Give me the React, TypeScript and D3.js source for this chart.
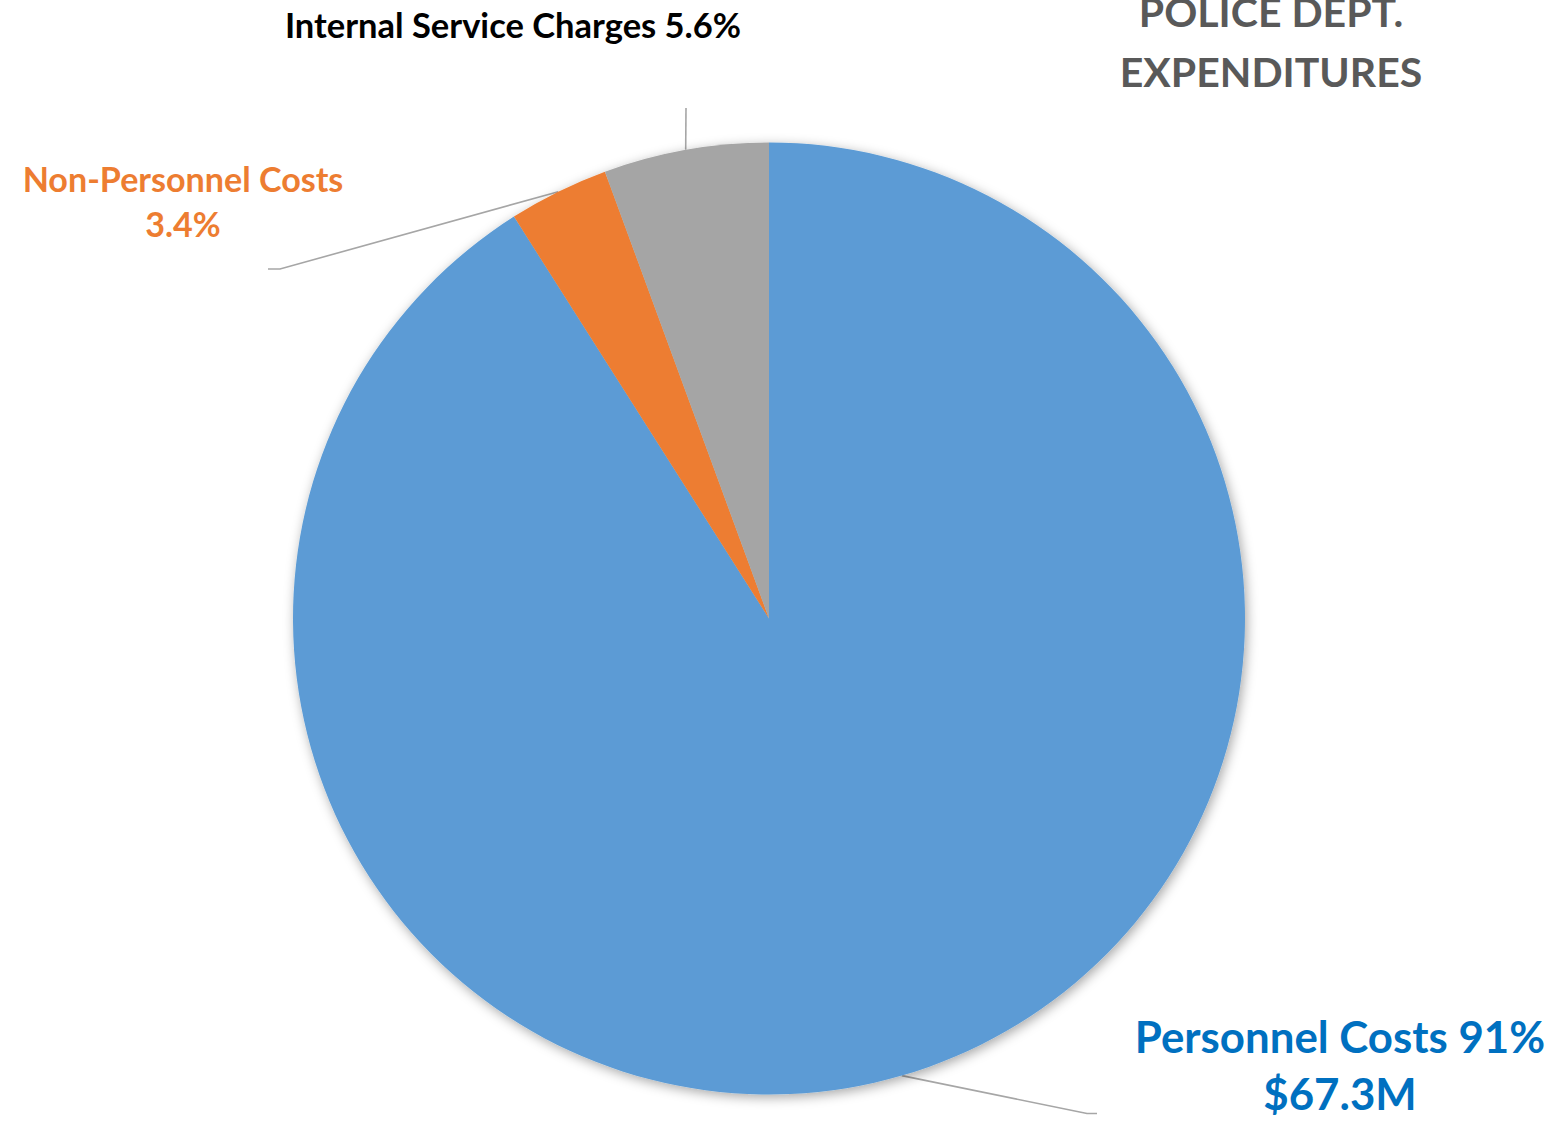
import React from "react";
import * as d3 from "d3";

const categories = ["Personnel Costs", "Non-Personnel Costs", "Internal Service Charges"];
const values = [91, 3.4, 5.6];
const labelLines = [
  ["Personnel Costs 91%", "$67.3M"],
  ["Non-Personnel Costs", "3.4%"],
  ["Internal Service Charges 5.6%"],
];
const titleLines = ["POLICE DEPT.", "EXPENDITURES"];
const colors = ["#5B9BD5", "#ED7D31", "#A5A5A5"];
const textColors = ["#0070C0", "#ED7D31", "#000000"];

const W = 1562;
const H = 1124;
const cx = 769;
const cy = 618.5;
const R = 476;
const FONT = "Lato, 'Open Sans', sans-serif";

export default function App() {
  const data = categories.map((c, i) => ({ name: c, value: values[i], i }));
  const pie = d3.pie<any>().sort(null).value((d: any) => d.value);
  const arcs = pie(data);
  const arc = d3.arc<any>().innerRadius(0).outerRadius(R);
  const edge = d3.arc<any>().innerRadius(R).outerRadius(R);

  const layout = [
    { x: 1340, y: 1053, gap: 57, size: 43.8, elbow: [1087, 1113.5], end: [1097, 1113.5] },
    { x: 183, y: 192, gap: 45, size: 34.1, elbow: [280, 269], end: [268, 269] },
    { x: 513, y: 38, gap: 0, size: 34.5, elbow: null as any, end: [686, 108] },
  ];

  return (
    <svg
      width={W}
      height={H}
      style={{ position: "absolute", left: 0, top: 0, background: "#fff" }}
    >
      <defs>
        <filter id="sh" x="-10%" y="-10%" width="120%" height="120%">
          <feDropShadow dx="2" dy="3" stdDeviation="6" floodColor="#000" floodOpacity="0.35" />
        </filter>
      </defs>
      <g>
        {arcs.map((a, i) => {
          const p = edge.centroid(a);
          const L = layout[i];
          const pts: [number, number][] = [[cx + p[0], cy + p[1]]];
          if (L.elbow) pts.push([L.elbow[0], L.elbow[1]]);
          pts.push([L.end[0], L.end[1]]);
          return (
            <path
              key={"l" + i}
              d={d3.line()(pts) as string}
              fill="none"
              stroke="#A6A6A6"
              strokeWidth={1.6}
            />
          );
        })}
      </g>
      <g transform={`translate(${cx},${cy})`} filter="url(#sh)">
        {arcs.map((a, i) => (
          <path key={i} d={arc(a) as string} fill={colors[i]} />
        ))}
      </g>
      {labelLines.map((lines, i) => (
        <text
          key={"t" + i}
          x={layout[i].x}
          y={layout[i].y}
          textAnchor="middle"
          fill={textColors[i]}
          fontFamily={FONT}
          fontWeight="bold"
          fontSize={layout[i].size}
        >
          {lines.map((t, j) => (
            <tspan key={j} x={layout[i].x} dy={j === 0 ? 0 : layout[i].gap}>
              {t}
            </tspan>
          ))}
        </text>
      ))}
      <text
        x={1271}
        y={27}
        textAnchor="middle"
        fill="#595959"
        fontFamily={FONT}
        fontWeight="bold"
        fontSize={41}
      >
        {titleLines.map((t, j) => (
          <tspan key={j} x={1271} dy={j === 0 ? 0 : 60}>
            {t}
          </tspan>
        ))}
      </text>
    </svg>
  );
}
